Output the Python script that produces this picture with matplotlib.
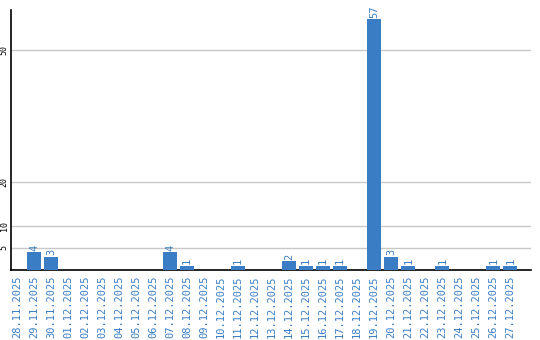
import matplotlib
matplotlib.use("Agg")
import matplotlib.pyplot as plt
import numpy as np

dates = ["28.11.2025", "29.11.2025", "30.11.2025", "01.12.2025", "02.12.2025",
         "03.12.2025", "04.12.2025", "05.12.2025", "06.12.2025", "07.12.2025",
         "08.12.2025", "09.12.2025", "10.12.2025", "11.12.2025", "12.12.2025",
         "13.12.2025", "14.12.2025", "15.12.2025", "16.12.2025", "17.12.2025",
         "18.12.2025", "19.12.2025", "20.12.2025", "21.12.2025", "22.12.2025",
         "23.12.2025", "24.12.2025", "25.12.2025", "26.12.2025", "27.12.2025"]
counts = [0, 4, 3, 0, 0, 0, 0, 0, 0, 4,
          1, 0, 0, 1, 0, 0, 2, 1, 1, 1,
          0, 57, 3, 1, 0, 1, 0, 0, 1, 1]
y_ticks = [5, 10, 20, 50]

blue = "#3b7dc4"
font = "DejaVu Sans Mono"

fig = plt.figure(figsize=(5.4, 3.4), dpi=100)
ax = fig.add_axes([0.0198, 0.206, 0.963, 0.765])

x = np.arange(len(dates))
ax.bar(x, counts, width=0.82, color=blue, zorder=3)
for xi, v in zip(x, counts):
    if v > 0:
        ax.text(xi, v + 0.3, str(v), rotation=90, ha="center", va="bottom",
                color=blue, fontsize=7.5, family=font)

ax.set_xlim(-0.37, 30.2)
ax.set_ylim(0, 59.1)
ax.set_xticks(x)
ax.set_xticklabels(dates, rotation=90, color=blue, fontsize=7.5, family=font)
ax.set_yticks(y_ticks)
ax.set_yticklabels([str(t) for t in y_ticks], rotation=90, fontsize=6,
                   family=font, va="center")
ax.tick_params(axis="both", length=0)
ax.tick_params(axis="x", pad=4)
ax.tick_params(axis="y", pad=1.5)
ax.yaxis.grid(True, color="#c8c8c8", linewidth=1, zorder=0)
for s in ["top", "right"]:
    ax.spines[s].set_visible(False)
ax.spines["left"].set_linewidth(1.2)
ax.spines["bottom"].set_linewidth(1.2)

fig.savefig("out.png", dpi=100)
